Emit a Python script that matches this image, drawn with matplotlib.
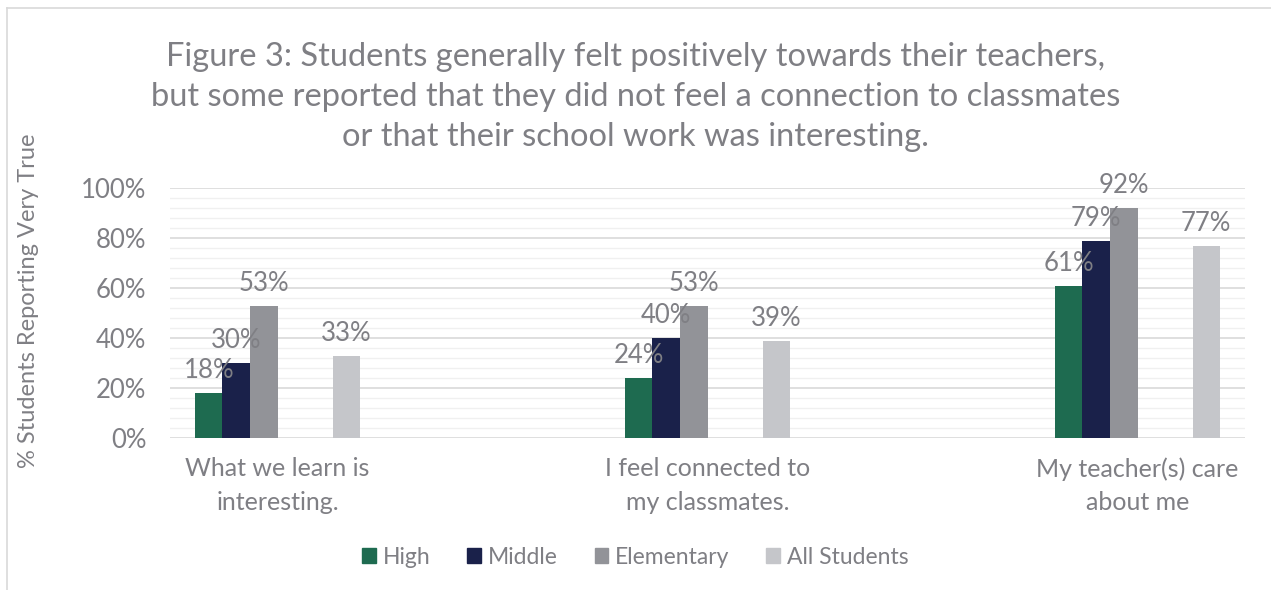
import numpy as np
import matplotlib.pyplot as plt
from matplotlib.lines import Line2D
from matplotlib.ticker import MultipleLocator, PercentFormatter

plt.rcParams['font.family'] = ['Lato', 'DejaVu Sans']

# Data
categories = ['What we learn is\ninteresting.', 'I feel connected to\nmy classmates.', 'My teacher(s) care\nabout me']
series = ['High', 'Middle', 'Elementary', 'All Students']
high = [18, 24, 61]
middle = [30, 40, 79]
elementary = [53, 53, 92]
all_students = [33, 39, 77]

colors = ['#1e6b50', '#1a214a', '#929398', '#c5c6ca']
text_gray = '#7f7f84'

fig = plt.figure(figsize=(12.71, 5.90), dpi=100)
ax = fig.add_axes([170 / 1271, 1 - 438 / 590, 1075 / 1271, 250 / 590])

x = np.arange(len(categories))
w = 0.064
slots = [-2.5, -1.5, -0.5, 2.5]
for vals, name, c, s in zip([high, middle, elementary, all_students], series, colors, slots):
    bars = ax.bar(x + s * w, vals, width=w, color=c, label=name, zorder=3)
    for b, v in zip(bars, vals):
        ax.annotate(f'{v}%', (b.get_x() + b.get_width() / 2, v), xytext=(0, 7),
                    textcoords='offset points', ha='center', va='bottom',
                    fontsize=18.5, color=text_gray, zorder=4)

ax.set_xlim(-0.25, 2.25)
ax.set_ylim(0, 100)
ax.yaxis.set_major_locator(MultipleLocator(20))
ax.yaxis.set_minor_locator(MultipleLocator(4))
ax.yaxis.set_major_formatter(PercentFormatter(decimals=0))
ax.grid(axis='y', which='major', color='#d9d9d9', linewidth=1.2, zorder=0)
ax.grid(axis='y', which='minor', color='#f0f0f0', linewidth=1.0, zorder=0)
for sp in ax.spines.values():
    sp.set_visible(False)
ax.set_xticks(x)
ax.set_xticklabels(categories, fontsize=18, color=text_gray, linespacing=1.55)
ax.tick_params(axis='x', length=0, pad=14)
ax.tick_params(axis='y', which='both', length=0, labelsize=18.5, labelcolor=text_gray, pad=17)
ax.set_ylabel('% Students Reporting Very True', fontsize=17, color=text_gray)
ax.yaxis.set_label_coords(-0.122, 0.55)

fig.text(0.5, 1 - 97 / 590, 'Figure 3: Students generally felt positively towards their teachers,\n'
         'but some reported that they did not feel a connection to classmates\n'
         'or that their school work was interesting.',
         ha='center', va='center', fontsize=23.5, color=text_gray, linespacing=1.42)

handles = [plt.Rectangle((0, 0), 1, 1, color=c) for c in colors]
fig.legend(handles, series, loc='center', bbox_to_anchor=(0.5, 1 - 557 / 590), ncol=4,
           frameon=False, fontsize=16.5, labelcolor=text_gray, handlelength=0.6,
           handleheight=0.6, handletextpad=0.3, columnspacing=1.6)

# light frame on left and top edges
fig.add_artist(Line2D([7 / 1271, 7 / 1271], [0, 1 - 8 / 590], transform=fig.transFigure, color='#d9d9d9', lw=1.2))
fig.add_artist(Line2D([7 / 1271, 1], [1 - 8 / 590, 1 - 8 / 590], transform=fig.transFigure, color='#d9d9d9', lw=1.2))

fig.savefig('out.png', dpi=100)
